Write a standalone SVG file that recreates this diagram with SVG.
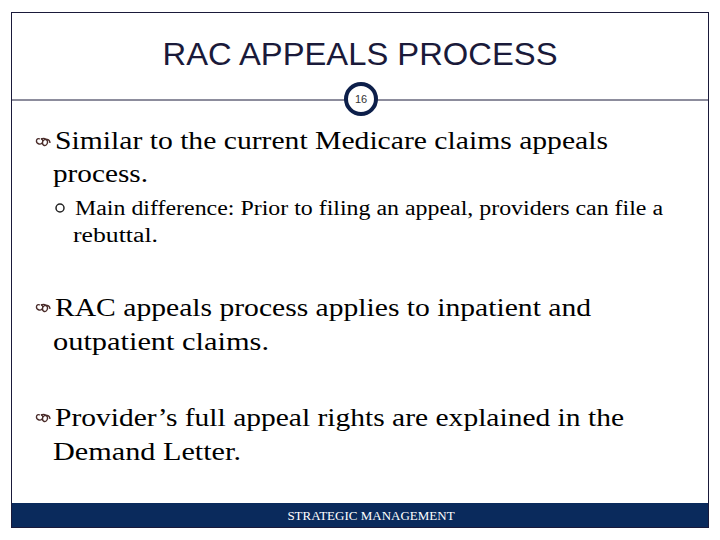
<svg xmlns="http://www.w3.org/2000/svg" width="720" height="540" viewBox="0 0 720 540">
<style>
.m{font-family:"Liberation Serif",serif;font-size:26px;fill:#000}
.s{font-family:"Liberation Serif",serif;font-size:20px;fill:#000}
.b{fill:none;stroke:#4a2c2a;stroke-width:1.3}
</style>
<defs><path id="bul" class="b" d="M0,-4 C-4,-6 -5,0 -1,1 C3,2 4,-4 1,-4 C5,-6 9,-2 7,1 C5,4 1,2 3,-2 C5,-5 10,-4 10,0"/></defs>
<rect x="0" y="0" width="720" height="540" fill="#fff"/>
<rect x="11.5" y="12.5" width="697" height="515" fill="none" stroke="#1a1a3a" stroke-width="1"/>
<text x="360" y="65" text-anchor="middle" font-family="Liberation Sans,sans-serif" font-size="31" fill="#1a1a3a" textLength="395" lengthAdjust="spacingAndGlyphs">RAC APPEALS PROCESS</text>
<line x1="11" y1="100" x2="709" y2="100" stroke="#1a1a3a" stroke-width="1"/>
<g id="pagenum"><circle cx="361" cy="99" r="15" fill="#fff" stroke="#0d1f4a" stroke-width="4"/>
<text x="361" y="103" text-anchor="middle" font-family="Liberation Sans,sans-serif" font-size="11" fill="#333">16</text></g>
<use href="#bul" x="40" y="143"/>
<text class="m" x="55" y="149" textLength="553" lengthAdjust="spacingAndGlyphs">Similar to the current Medicare claims appeals</text>
<text class="m" x="53" y="182" textLength="95" lengthAdjust="spacingAndGlyphs">process.</text>
<circle cx="60" cy="208" r="4" fill="none" stroke="#222" stroke-width="1.5"/>
<text class="s" x="75" y="215" textLength="588" lengthAdjust="spacingAndGlyphs">Main difference: Prior to filing an appeal, providers can file a</text>
<text class="s" x="73" y="242" textLength="85" lengthAdjust="spacingAndGlyphs">rebuttal.</text>
<use href="#bul" x="40" y="309"/>
<text class="m" x="55" y="316" textLength="536" lengthAdjust="spacingAndGlyphs">RAC appeals process applies to inpatient and</text>
<text class="m" x="53" y="350" textLength="216" lengthAdjust="spacingAndGlyphs">outpatient claims.</text>
<use href="#bul" x="40" y="419"/>
<text class="m" x="55" y="426" textLength="569" lengthAdjust="spacingAndGlyphs">Provider’s full appeal rights are explained in the</text>
<text class="m" x="53" y="460" textLength="188" lengthAdjust="spacingAndGlyphs">Demand Letter.</text>
<rect x="12" y="503" width="696" height="24" fill="#0a2a5c"/>
<text x="371" y="520" text-anchor="middle" font-family="Liberation Serif,serif" font-size="13" fill="#fff">STRATEGIC MANAGEMENT</text>
</svg>
